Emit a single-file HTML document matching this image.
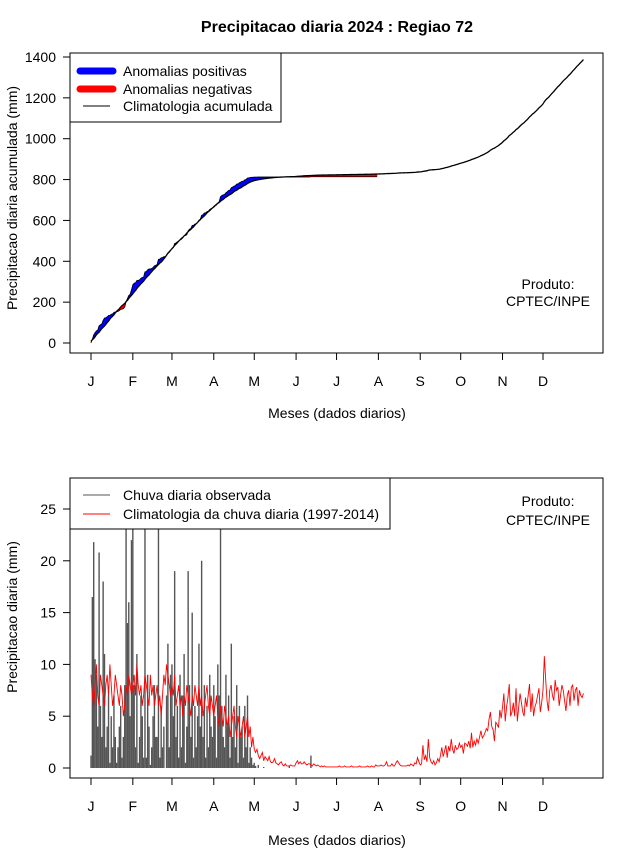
<!DOCTYPE html>
<html><head><meta charset="utf-8"><style>
body{margin:0;background:#fff}
svg{display:block;font-family:"Liberation Sans",sans-serif}
</style></head><body>
<svg id="c" width="640" height="850" xmlns="http://www.w3.org/2000/svg"></svg>
<script>
const months = ["J","F","M","A","M","J","J","A","S","O","N","D"];
const monthStart = [0,31,60,91,121,152,182,213,244,274,305,335];
const topTicks = [0,200,400,600,800,1000,1200,1400];
const botTicks = [0,5,10,15,20,25];
const clim = [
9,7,6,8,10,7,6,9,8,7,6,8,9,7,10,8,6,7,9,8,7,6,8,7,5,6,8,7,9,8,7,
8,9,7,10,8,7,8,6,7,9,8,7,6,9,7,8,6,7,8,6,7,5,7,9,8,10,9,8,7,
8,7,9,6,7,8,6,7,5,7,6,8,7,6,5,7,6,8,7,6,8,6,7,5,6,7,8,6,5,7,6,
5,6,7,5,4,6,5,4,6,5,4,5,3,4,5,6,4,3,5,4,3,4,5,3,4,5,3,4,2,3,
1.8,1.5,1.8,1.2,0.9,1.2,1.5,0.7,1.1,0.9,0.7,1.1,0.6,0.5,0.6,0.9,0.5,0.4,0.3,0.5,0.6,0.3,0.2,0.4,0.2,0.2,0.2,0.3,0.2,0.2,0.2,
0.5,0.7,0.4,0.6,0.4,0.4,0.6,0.4,0.3,0.4,0.4,0.3,0.2,0.4,0.3,0.2,0.3,0.2,0.1,0.2,0.1,0.2,0.1,0.1,0.1,0.1,0.1,0.1,0.1,0.1,
0.1,0.1,0.2,0.1,0.1,0.1,0.2,0.1,0.1,0.1,0.1,0.2,0.1,0.1,0.1,0.1,0.1,0.2,0.1,0.1,0.1,0.1,0.1,0.2,0.1,0.1,0.2,0.1,0.1,0.3,0.2,
0.2,0.2,0.3,0.2,0.2,0.3,0.6,0.2,0.2,0.2,0.4,0.2,0.2,0.5,0.7,0.5,0.3,0.2,0.2,0.2,0.2,0.2,0.3,0.2,0.4,0.3,0.2,0.5,0.4,1.0,0.6,
0.3,0.4,2.2,0.8,1.2,0.6,2.8,1.0,0.6,0.4,0.7,0.3,0.5,0.9,0.6,1.2,2.0,1.1,1.6,2.2,1.0,2.1,1.6,2.8,1.8,1.4,2.2,1.8,1.9,2.4,
2.0,2.2,1.4,2.4,2.3,2.1,2.6,1.9,3.4,2.0,2.6,2.2,2.8,2.4,3.0,3.6,2.9,3.1,3.4,3.8,3.6,4.7,5.4,4.0,3.7,2.6,4.4,4.2,3.9,5.6,4.8,
5.9,7.2,4.5,5.9,6.8,8.1,5.0,5.4,6.3,5.0,7.7,4.5,5.9,7.2,6.3,5.4,5.0,6.8,5.9,7.0,8.1,5.4,7.2,5.0,5.9,6.3,7.0,7.7,5.4,6.3,
7.5,10.8,8.5,6.5,5.5,7.5,8.0,7.0,6.5,8.5,7.5,7.8,6.0,7.0,8.0,7.5,6.5,5.5,7.0,7.5,6.0,7.8,8.0,6.5,7.5,7.8,6.0,7.5,7.0,6.8,7.2];
const obs = [
1.2,16.5,21.8,10.5,9,4,20.8,6,3,18,11,2,4,7,0.5,5,2,7,3,0.5,2,4,6,1,3,8,26,14,16,5,22,
25,8,2,11,0.5,3,7,5,1,26,1,9,4,0.3,2,5,8,3,3,26,1,6,2,4,0,7,12,2,9,
10,5,19,3,6,1,9,2,7,11,0.5,4,19,8,3,15,1,6,2,5,12,4,20,3,8,1,6,2,9,4,3,
8,5,1,10,7,24,6,3,2,9,4,7,1,12,3,5,2,8,0.5,6,3,4,1,6,2,7,0.5,2,1,0.3,
0.5,0.2,0,0.3,0,0,0,0.1,0,0,0,0,0,0,0,0,0,0,0,0,0,0,0,0,0,0,0.2,0,0,0,0,
0,0,0,0,0,0,0,0,0,0,0,1.2,0,0,0,0,0,0,0,0,0,0,0,0,0,0,0,0,0,0,
0,0,0,0,0,0,0,0,0,0,0,0,0,0,0,0,0,0,0,0,0,0,0,0,0,0,0,0,0,0,0];

const NS="http://www.w3.org/2000/svg";
const svg=document.getElementById('c');
function el(tag,attrs,parent){const e=document.createElementNS(NS,tag);for(const k in attrs)e.setAttribute(k,attrs[k]);(parent||svg).appendChild(e);return e;}
function txt(s,x,y,attrs){const t=el('text',Object.assign({x:x,y:y,'font-size':14,fill:'#000'},attrs||{}));t.textContent=s;return t;}
const xDay=d=>91+d*(452/335);

let t=txt("Precipitacao diaria 2024 : Regiao 72",337,32,{'font-size':16,'font-weight':'bold','text-anchor':'middle'});



function xAxis(yTick,yLab,yTitle,name){
  const g=el('g',{});
  
  
  el('line',{x1:xDay(0),x2:xDay(335),y1:yTick,y2:yTick,stroke:'#000'},g);
  monthStart.forEach((d,i)=>{
    el('line',{x1:xDay(d),x2:xDay(d),y1:yTick,y2:yTick+7,stroke:'#000'},g);
    const l=txt(months[i],xDay(d),yLab,{'text-anchor':'middle'});g.appendChild(l);
  });
  const tt=txt("Meses (dados diarios)",337,yTitle,{'text-anchor':'middle'});
  
  
}
function yAxis(ticks,yf,title,cy,name){
  const g=el('g',{});
  
  
  el('line',{x1:70,x2:70,y1:yf(ticks[0]),y2:yf(ticks[ticks.length-1]),stroke:'#000'},g);
  ticks.forEach(v=>{
    el('line',{x1:63,x2:70,y1:yf(v),y2:yf(v),stroke:'#000'},g);
    const l=txt(String(v),56,yf(v)+5,{'text-anchor':'end'});g.appendChild(l);
  });
  const tt=txt(title,0,0,{'text-anchor':'middle',transform:`translate(17,${cy}) rotate(-90)`});
  
  
}

// ---------- TOP ----------
const yTop=v=>343-v*(286/1400);
el('defs',{}).innerHTML='<clipPath id="ct"><rect x="70" y="53" width="533" height="300"/></clipPath><clipPath id="cb"><rect x="70" y="478" width="533" height="300"/></clipPath>';
const cumC=[],cumO=[];
clim.reduce((a,v,i)=>(cumC[i]=a+v),0);
obs.reduce((a,v,i)=>(cumO[i]=a+v),0);
const gT=el('g',{'clip-path':'url(#ct)'});


for(let i=0;i<obs.length-1;i++){
  const diff=(cumO[i]+cumO[i+1])-(cumC[i]+cumC[i+1]);
  const p=el('polygon',{points:`${xDay(i)},${yTop(cumO[i])} ${xDay(i+1)},${yTop(cumO[i+1])} ${xDay(i+1)},${yTop(cumC[i+1])} ${xDay(i)},${yTop(cumC[i])}`,fill:diff>=0?'#0000ff':'#ff0000',stroke:diff>=0?'#0000ff':'#ff0000','stroke-width':0.5},gT);
  
  
}
const ol=el('polyline',{points:cumO.map((v,i)=>xDay(i)+','+yTop(v)).join(' '),fill:'none',stroke:'#000','stroke-width':0.8},gT);


const cl=el('polyline',{points:cumC.map((v,i)=>xDay(i)+','+yTop(v)).join(' '),fill:'none',stroke:'#000','stroke-width':1.3},gT);


el('rect',{x:70,y:53,width:533,height:300,fill:'none',stroke:'#000'});
yAxis(topTicks,yTop,"Precipitacao diaria acumulada (mm)",198,'top');
xAxis(353,386,418,'top');
const lg=el('g',{});


el('rect',{x:70,y:53,width:211,height:69,fill:'#fff',stroke:'#000'},lg);
el('line',{x1:80,x2:113,y1:71,y2:71,stroke:'#0000ff','stroke-width':7,'stroke-linecap':'round'},lg);
el('line',{x1:80,x2:113,y1:89,y2:89,stroke:'#ff0000','stroke-width':7,'stroke-linecap':'round'},lg);
el('line',{x1:83,x2:110,y1:106,y2:106,stroke:'#000','stroke-width':1},lg);
lg.appendChild(txt("Anomalias positivas",123,76));
lg.appendChild(txt("Anomalias negativas",123,94));
lg.appendChild(txt("Climatologia acumulada",123,111));
let pr=txt("Produto:",548,289,{'text-anchor':'middle'});
txt("CPTEC/INPE",548,306,{'text-anchor':'middle'});

// ---------- BOTTOM ----------
const yBot=v=>768-v*10.36;
const gB=el('g',{'clip-path':'url(#cb)'});


obs.forEach((v,i)=>{
  if(v<=0)return;
  const b=el('line',{x1:xDay(i),x2:xDay(i),y1:yBot(0),y2:yBot(v),stroke:'#555','stroke-width':1.4},gB);
  
  
});
const rl=el('polyline',{points:clim.map((v,i)=>xDay(i)+','+yBot(v)).join(' '),fill:'none',stroke:'#ff0000','stroke-width':0.9},gB);


el('rect',{x:70,y:478,width:533,height:300,fill:'none',stroke:'#000'});
yAxis(botTicks,yBot,"Precipitacao diaria (mm)",617,'bottom');
xAxis(778,811,845,'bottom');
const lg2=el('g',{});


el('rect',{x:70,y:478,width:320,height:51,fill:'#fff',stroke:'#000'},lg2);
el('line',{x1:83,x2:110,y1:495,y2:495,stroke:'#555','stroke-width':1},lg2);
el('line',{x1:83,x2:110,y1:514,y2:514,stroke:'#ff0000','stroke-width':1},lg2);
lg2.appendChild(txt("Chuva diaria observada",123,500));
lg2.appendChild(txt("Climatologia da chuva diaria (1997-2014)",123,519));
pr=txt("Produto:",548,506,{'text-anchor':'middle'});
txt("CPTEC/INPE",548,525,{'text-anchor':'middle'});
</script>
</body></html>
